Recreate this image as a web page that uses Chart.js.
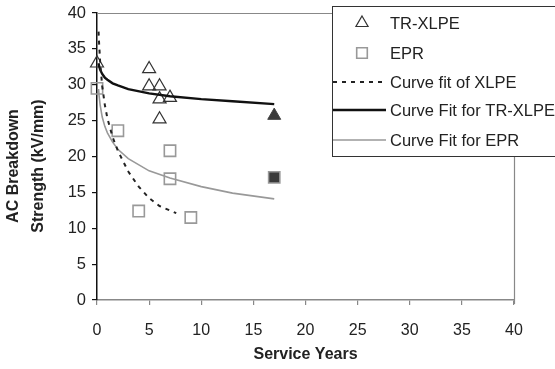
<!DOCTYPE html>
<html>
<head>
<meta charset="utf-8">
<script src="https://cdn.jsdelivr.net/npm/chart.js@4.4.0/dist/chart.umd.min.js"></script>
<style>
  html, body { margin: 0; padding: 0; background: #fff; }
</style>
</head>
<body>
<canvas id="myChart" width="555" height="369"></canvas>
<script>
// measured points
var trxlpeYears = [0, 5, 5, 6, 6, 7, 6];
var trxlpeKv = [33.0, 32.2, 29.8, 29.8, 28.0, 28.2, 25.2];
var eprYears = [0, 2, 7, 7, 4, 9];
var eprKv = [29.5, 23.6, 20.8, 16.9, 12.4, 11.5];
var agedYears = [17];
var agedTrxlpeKv = [25.7];
var agedEprKv = [17.1];

// fitted curves
var xlpeFitYears = [0.15, 0.2, 0.3, 0.5, 0.75, 1, 1.5, 2, 3, 4, 5, 6, 7.6];
var xlpeFitKv = [37.4, 35.8, 33.2, 29.8, 27.2, 25.3, 22.7, 20.8, 17.9, 15.8, 14.2, 13.1, 12.1];
var trxlpeFitYears = [0.15, 0.2, 0.3, 0.5, 0.75, 1, 1.5, 2, 3, 5, 7, 10, 13, 17];
var trxlpeFitKv = [33.0, 32.6, 32.1, 31.5, 31.0, 30.7, 30.2, 29.9, 29.4, 28.8, 28.4, 28.0, 27.7, 27.3];
var eprFitYears = [0.15, 0.2, 0.3, 0.5, 0.75, 1, 1.5, 2, 3, 5, 7, 10, 13, 17];
var eprFitKv = [29.4, 28.5, 27.2, 25.5, 24.2, 23.3, 22.0, 21.0, 19.7, 18.0, 17.0, 15.8, 14.9, 14.1];

var xTicks = [0, 5, 10, 15, 20, 25, 30, 35, 40];
var yTicks = [0, 5, 10, 15, 20, 25, 30, 35, 40];

var legendNames = ["TR-XLPE", "EPR", "Curve fit of XLPE", "Curve Fit for TR-XLPE", "Curve Fit for EPR"];

function toPoints(xs, ys) {
    var pts = [];
    for (var i = 0; i < xs.length; i++) {
        pts.push({ x: xs[i], y: ys[i] });
    }
    return pts;
}

var FONT = "'Liberation Sans', Arial, sans-serif";

var plotFrame = {
    id: "plotFrame",
    beforeDatasetsDraw: function (chart) {
        var a = chart.chartArea;
        var ctx = chart.ctx;
        ctx.save();
        ctx.strokeStyle = "#888";
        ctx.lineWidth = 1.2;
        ctx.beginPath();
        ctx.moveTo(a.left, a.top + 0.5);
        ctx.lineTo(a.right + 0.5, a.top + 0.5);
        ctx.lineTo(a.right + 0.5, a.bottom + 4);
        ctx.stroke();
        ctx.restore();
    }
};

var yTitle = {
    id: "yTitle",
    afterDraw: function (chart) {
        var ctx = chart.ctx;
        ctx.save();
        ctx.fillStyle = "#222";
        ctx.font = "bold 16px " + FONT;
        ctx.textAlign = "center";
        ctx.textBaseline = "middle";
        ctx.translate(0, 166);
        ctx.rotate(-Math.PI / 2);
        ctx.fillText("AC Breakdown", 0, 14);
        ctx.fillText("Strength (kV/mm)", 0, 39);
        ctx.restore();
    }
};

var legendBox = {
    id: "legendBox",
    afterDraw: function (chart) {
        var ctx = chart.ctx;
        var rows = [23, 53, 82, 110, 140];
        ctx.save();
        ctx.fillStyle = "#fff";
        ctx.fillRect(332, 6, 240, 150);
        ctx.strokeStyle = "#333";
        ctx.lineWidth = 1;
        ctx.strokeRect(332.5, 6.5, 240, 150);

        for (var i = 0; i < legendNames.length; i++) {
            var ds = chart.data.datasets[i];
            var y = rows[i];
            ctx.save();
            if (ds.showLine) {
                ctx.strokeStyle = ds.borderColor;
                ctx.lineWidth = ds.borderWidth;
                ctx.setLineDash(ds.borderDash || []);
                ctx.beginPath();
                ctx.moveTo(333, y);
                ctx.lineTo(386, y);
                ctx.stroke();
            } else {
                ctx.strokeStyle = ds.pointBorderColor;
                ctx.fillStyle = ds.pointBackgroundColor;
                ctx.lineWidth = ds.pointBorderWidth;
                Chart.helpers.drawPoint(ctx, {
                    pointStyle: ds.pointStyle,
                    radius: ds.pointRadius - 0.5,
                    rotation: 0,
                    borderWidth: ds.pointBorderWidth
                }, 362, y);
            }
            ctx.restore();
            ctx.fillStyle = "#222";
            ctx.font = "16.5px " + FONT;
            ctx.textAlign = "left";
            ctx.textBaseline = "middle";
            ctx.fillText(legendNames[i], 390, y + 1);
        }
        ctx.restore();
    }
};

var ctx = document.getElementById("myChart").getContext("2d");

var chart = new Chart(ctx, {
    type: "scatter",
    data: {
        datasets: [{
            label: legendNames[0],
            data: toPoints(trxlpeYears, trxlpeKv),
            pointStyle: "triangle",
            pointRadius: 7.5,
            pointBorderWidth: 1.2,
            pointBorderColor: "#333",
            pointBackgroundColor: "rgba(255,255,255,0)",
            showLine: false,
            clip: false,
            order: 5
        }, {
            label: legendNames[1],
            data: toPoints(eprYears, eprKv),
            pointStyle: "rect",
            pointRadius: 8,
            pointBorderWidth: 1.6,
            pointBorderColor: "#999",
            pointBackgroundColor: "rgba(255,255,255,0)",
            showLine: false,
            clip: false,
            order: 5
        }, {
            label: legendNames[2],
            data: toPoints(xlpeFitYears, xlpeFitKv),
            showLine: true,
            borderColor: "#222",
            borderWidth: 2,
            borderDash: [4, 5],
            pointRadius: 0,
            tension: 0,
            clip: false,
            order: 1
        }, {
            label: legendNames[3],
            data: toPoints(trxlpeFitYears, trxlpeFitKv),
            showLine: true,
            borderColor: "#111",
            borderWidth: 2.4,
            pointRadius: 0,
            tension: 0,
            clip: false,
            order: 1
        }, {
            label: legendNames[4],
            data: toPoints(eprFitYears, eprFitKv),
            showLine: true,
            borderColor: "#999",
            borderWidth: 1.6,
            pointRadius: 0,
            tension: 0,
            clip: false,
            order: 1
        }, {
            label: "aged TR-XLPE",
            data: toPoints(agedYears, agedTrxlpeKv),
            pointStyle: "triangle",
            pointRadius: 7.5,
            pointBorderWidth: 1,
            pointBorderColor: "#444",
            pointBackgroundColor: "#3a3a3a",
            showLine: false,
            clip: false,
            order: 5
        }, {
            label: "aged EPR",
            data: toPoints(agedYears, agedEprKv),
            pointStyle: "rect",
            pointRadius: 8,
            pointBorderWidth: 1.5,
            pointBorderColor: "#999",
            pointBackgroundColor: "#3a3a3a",
            showLine: false,
            clip: false,
            order: 5
        }]
    },
    options: {
        responsive: false,
        animation: false,
        layout: { padding: { top: 13, right: 41, left: 0, bottom: 0 } },
        plugins: {
            legend: { display: false },
            tooltip: { enabled: false }
        },
        scales: {
            x: {
                type: "linear",
                min: 0,
                max: 40,
                afterBuildTicks: function (scale) {
                    scale.ticks = xTicks.map(function (v) { return { value: v }; });
                },
                afterFit: function (scale) { scale.height = 69; },
                ticks: {
                    color: "#222",
                    font: { family: FONT, size: 16 },
                    padding: 16,
                    maxRotation: 0
                },
                grid: {
                    drawOnChartArea: false,
                    drawTicks: true,
                    tickLength: 5,
                    color: "#888",
                    lineWidth: 1.2
                },
                border: { color: "#888", width: 1.5 },
                title: {
                    display: true,
                    text: "Service Years",
                    color: "#222",
                    font: { family: FONT, size: 16, weight: "bold" },
                    padding: { top: 5, bottom: 5 }
                }
            },
            y: {
                type: "linear",
                min: 0,
                max: 40,
                afterBuildTicks: function (scale) {
                    scale.ticks = yTicks.map(function (v) { return { value: v }; });
                },
                afterFit: function (scale) {
                    scale.width = 97;
                    scale.paddingTop = 0;
                    scale.paddingBottom = 0;
                },
                ticks: {
                    color: "#222",
                    font: { family: FONT, size: 16.5 },
                    padding: 6
                },
                grid: {
                    drawOnChartArea: false,
                    drawTicks: true,
                    tickLength: 5,
                    color: "#111",
                    lineWidth: 1.2
                },
                border: { color: "#111", width: 1.5 }
            }
        }
    },
    plugins: [plotFrame, yTitle, legendBox]
});
</script>
</body>
</html>
